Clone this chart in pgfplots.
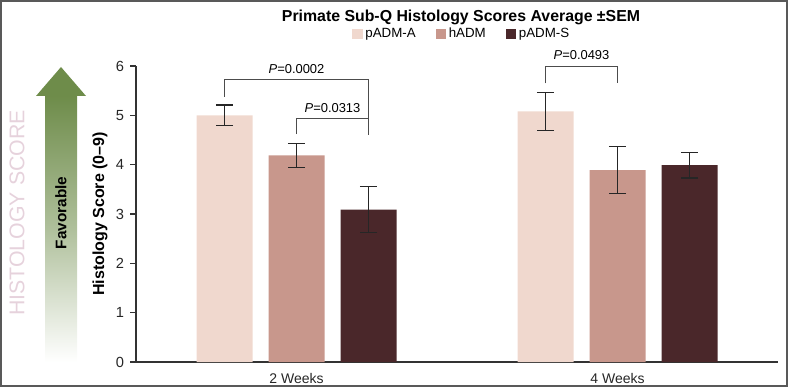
\documentclass[border=0pt]{standalone}
\usepackage{pgfplots}
\pgfplotsset{compat=1.18}
\usepackage{fontspec}
\setmainfont{Liberation Sans}

\definecolor{cA}{HTML}{F0D8CE}
\definecolor{cH}{HTML}{C8978C}
\definecolor{cS}{HTML}{4A272A}
\definecolor{arrowgreen}{HTML}{6E8C4A}
\definecolor{faint}{HTML}{E6D2DC}
\definecolor{axisgray}{HTML}{333333}

\pgfplotsset{
  sembar/.style={draw=none, fill=#1,
    error bars/.cd, y dir=both, y explicit,
    error bar style={line width=0.9pt, black!85},
    error mark options={rotate=90, mark size=6.4pt, line width=0.9pt, black!85}},
}

\begin{document}
\begin{tikzpicture}
% outer frame (788 x 387 px at 0.75pt per px)
\draw[line width=1.2pt, black!65] (0.6pt,0.6pt) rectangle (590.4pt,289.65pt);

% favourable arrow on the left
\begin{scope}[x=0.75pt, y=-0.75pt, yshift=290.25pt]
  \shade[top color=arrowgreen, bottom color=white, middle color=arrowgreen!55]
    (45,96) rectangle (77,362);
  \fill[arrowgreen] (36,96) -- (61,67) -- (86,96) -- cycle;
  \node[rotate=90, font=\bfseries\fontsize{11.5}{13}\selectfont] at (61,213) {Favorable};
  \node[rotate=90, text=faint, font=\fontsize{16}{19}\selectfont] at (17,213) {HISTOLOGY SCORE};
  \node[font=\bfseries\fontsize{11.9}{14}\selectfont] at (461,17)
    {Primate Sub-Q Histology Scores Average \textpm SEM};
\end{scope}

\begin{axis}[
  at={(102pt,18.75pt)}, anchor=south west,
  scale only axis, width=481.5pt, height=222pt,
  xmin=-0.5, xmax=1.5, ymin=0, ymax=6,
  axis x line=bottom, axis y line=left,
  axis line style={-, axisgray, line width=0.8pt},
  xtick={0,1}, xticklabels={2 Weeks, 4 Weeks},
  x tick style={draw=none},
  ytick={0,1,...,6},
  tick align=outside, major tick length=4.5pt,
  y tick style={axisgray, line width=0.8pt},
  /pgf/number format/assume math mode=true,
  yticklabel style={font=\fontsize{11}{12}\selectfont, text=black!85, xshift=-1pt},
  xticklabel style={font=\fontsize{10.5}{12}\selectfont, text=black!85, yshift=-0.5pt},
  ylabel={Histology Score (0--9)},
  every axis y label/.style={at={(axis description cs:-0.0561,0.5)}, rotate=90,
    anchor=center, font=\bfseries\fontsize{12}{14}\selectfont},
  ybar=12pt, bar width=42pt,
  clip=false,
  legend style={at={(0.508,1.108)}, anchor=center, draw=none, fill=none,
    legend columns=3, font=\fontsize{10}{12}\selectfont,
    /tikz/every even column/.append style={column sep=13pt}},
  legend image code/.code={\fill[#1] (0pt,-3.9pt) rectangle (7.8pt,3.9pt);},
]
\addplot[sembar=cA] coordinates {(0,5.00) +- (0,0.21) (1,5.08) +- (0,0.38)};
\addplot[sembar=cH] coordinates {(0,4.19) +- (0,0.245) (1,3.89) +- (0,0.48)};
\addplot[sembar=cS] coordinates {(0,3.09) +- (0,0.46) (1,3.99) +- (0,0.26)};
\legend{pADM-A, hADM, pADM-S}

% significance brackets
\draw[line width=0.8pt, black!70]
  ([xshift=-54pt]axis cs:0,5.38) |- ([xshift=54pt]axis cs:0,5.72) -- ([xshift=54pt]axis cs:0,4.60);
\draw[line width=0.8pt, black!70]
  (axis cs:0,4.62) |- ([xshift=54pt]axis cs:0,4.94) -- ([xshift=54pt]axis cs:0,4.60);
\draw[line width=0.8pt, black!70]
  ([xshift=-54pt]axis cs:1,5.65) |- (axis cs:1,5.99) -- (axis cs:1,5.65);
\node[font=\fontsize{9.7}{11}\selectfont] at (axis cs:0,5.94) {\textit{P}=0.0002};
\node[font=\fontsize{9.7}{11}\selectfont] at ([xshift=27pt]axis cs:0,5.15) {\textit{P}=0.0313};
\node[font=\fontsize{9.7}{11}\selectfont] at ([xshift=-27pt]axis cs:1,6.22) {\textit{P}=0.0493};
\end{axis}
\end{tikzpicture}
\end{document}
